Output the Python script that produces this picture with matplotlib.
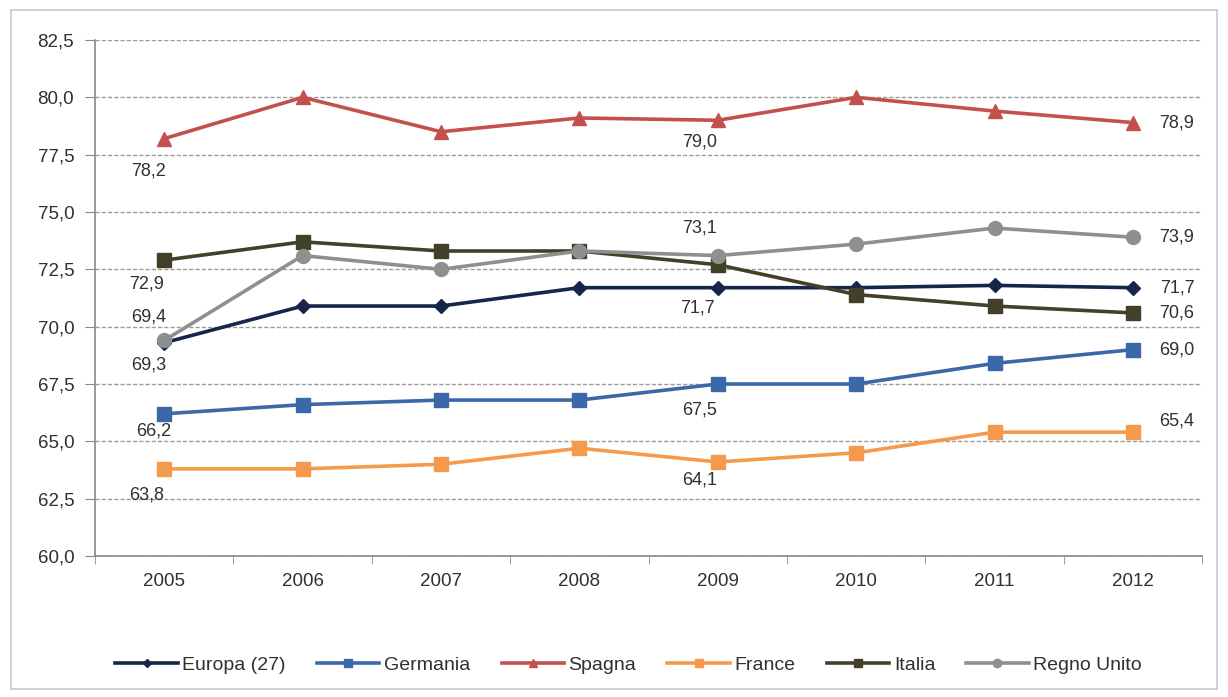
import matplotlib.pyplot as plt
from matplotlib.patches import Rectangle

plt.rcParams['font.family'] = ['Liberation Sans', 'DejaVu Sans']

anni = ['2005', '2006', '2007', '2008', '2009', '2010', '2011', '2012']

europa = [69.3, 70.9, 70.9, 71.7, 71.7, 71.7, 71.8, 71.7]
germania = [66.2, 66.6, 66.8, 66.8, 67.5, 67.5, 68.4, 69.0]
spagna = [78.2, 80.0, 78.5, 79.1, 79.0, 80.0, 79.4, 78.9]
france = [63.8, 63.8, 64.0, 64.7, 64.1, 64.5, 65.4, 65.4]
italia = [72.9, 73.7, 73.3, 73.3, 72.7, 71.4, 70.9, 70.6]
regno_unito = [69.4, 73.1, 72.5, 73.3, 73.1, 73.6, 74.3, 73.9]

serie = [
    ('Europa (27)', europa, '#15264a', 'D', 7),
    ('Germania', germania, '#3b68a8', 's', 10),
    ('Spagna', spagna, '#c3504d', '^', 10),
    ('France', france, '#f59a4c', 's', 10),
    ('Italia', italia, '#43402a', 's', 10),
    ('Regno Unito', regno_unito, '#8f8f8f', 'o', 10),
]

# label offsets in pixels (dx, dy) for 2005, 2009, 2012
offs = {
    'Europa (27)': [(-16, -22), (-20, -20), (44, 0)],
    'Germania': [(-11, -17), (-18, -26), (44, 0)],
    'Spagna': [(-16, -32), (-18, -22), (44, 0)],
    'France': [(-18, -26), (-18, -18), (44, 11)],
    'Italia': [(-18, -24), None, (44, 0)],
    'Regno Unito': [(-16, 23), (-18, 28), (44, 0)],
}

fig = plt.figure(figsize=(12.28, 6.97), dpi=100)
fig.patches.append(Rectangle((0.009, 0.012), 0.982, 0.974, transform=fig.transFigure,
                             fill=False, edgecolor='#c8c8c8', linewidth=1.2))
ax = fig.add_axes([0.0774, 0.2023, 0.9016, 0.7403])

x = list(range(len(anni)))
for nome, vals, col, mk, ms in serie:
    ax.plot(x, vals, color=col, marker=mk, markersize=ms, linewidth=2.6, label=nome)
    for i, o in zip([0, 4, 7], offs[nome]):
        if o is None:
            continue
        ax.annotate(('%.1f' % vals[i]).replace('.', ','), (i, vals[i]), xytext=o,
                    textcoords='offset pixels', ha='center', va='center',
                    fontsize=13, color='#303030')

ax.set_xlim(-0.5, 7.5)
ax.set_ylim(60, 82.5)
ax.set_yticks([60 + 2.5 * k for k in range(10)])
ax.set_yticklabels([('%.1f' % (60 + 2.5 * k)).replace('.', ',') for k in range(10)])
ax.set_xticks(x)
ax.set_xticklabels(anni)
ax.set_xticks([k - 0.5 for k in range(9)], minor=True)
ax.tick_params(axis='x', which='major', length=0, pad=12, labelsize=13.5, colors='#303030')
ax.tick_params(axis='x', which='minor', length=6, color='#888888', direction='out')
ax.tick_params(axis='y', length=7, color='#888888', pad=8, labelsize=13.5, labelcolor='#303030')
ax.grid(axis='y', linestyle=(0, (3, 1.5)), color='#9a9a9a', linewidth=1)
ax.set_axisbelow(True)
for s in ['top', 'right']:
    ax.spines[s].set_visible(False)
for s in ['left', 'bottom']:
    ax.spines[s].set_color('#888888')
    ax.spines[s].set_linewidth(1.2)

leg = fig.legend(loc='center', bbox_to_anchor=(0.512, 0.046), ncol=6, frameon=False,
                 fontsize=14, handlelength=3.2, columnspacing=1.6, handletextpad=0.25,
                 markerscale=0.6)
for t in leg.get_texts():
    t.set_color('#303030')

fig.savefig('out.png', dpi=100)
